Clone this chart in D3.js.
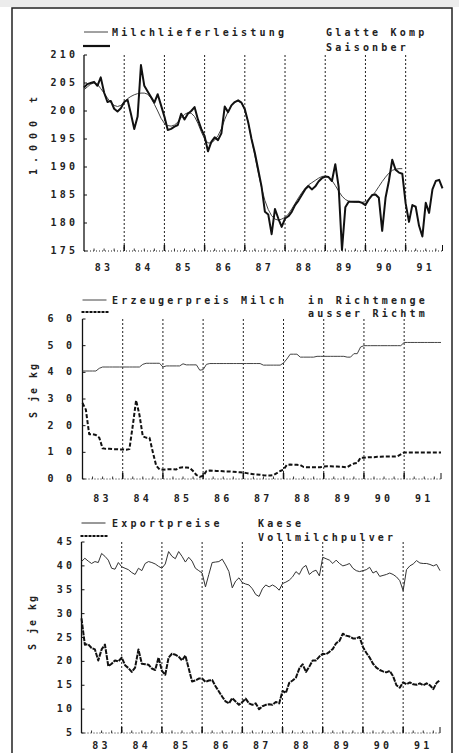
<!DOCTYPE html>
<html><head><meta charset="utf-8">
<script src="https://cdn.jsdelivr.net/npm/d3@7"></script>
<style>
body{margin:0;background:#fff}
text{font-family:"DejaVu Sans Mono",monospace;font-size:10px;font-weight:bold;fill:#222;letter-spacing:3.2px}
</style>
</head><body>
<svg id="c" width="459" height="753"></svg>
<script>
// ---------- data (monthly, Jan 1983 – Dec 1991) ----------
const years = ["83","84","85","86","87","88","89","90","91"];

const milchSaison = [
 204.2,204.8,205.0,205.2,204.5,206.0,203.3,201.6,201.8,200.4,199.9,200.5,
 201.6,202.0,199.5,196.8,199.0,208.2,204.5,203.5,202.5,201.5,203.0,201.0,
 199.0,196.6,196.8,197.2,197.5,199.5,198.5,199.5,200.0,200.7,198.5,196.8,
 195.5,192.8,194.5,195.3,194.8,196.0,200.8,199.8,201.0,201.6,201.9,201.5,
 200.3,198.0,195.0,192.5,189.5,186.5,182.0,181.5,178.0,182.5,180.8,179.3,
 180.8,181.2,182.0,183.2,184.0,185.0,186.0,186.6,186.0,186.5,187.4,188.0,
 188.3,188.2,187.5,190.5,186.5,175.2,182.8,183.8,183.8,183.8,183.8,183.6,
 183.2,184.2,185.0,185.1,184.5,178.6,184.5,187.5,191.3,189.5,189.0,188.8,
 183.5,180.2,183.2,182.9,179.5,177.6,183.6,181.8,186.0,187.5,187.7,186.2];

const milchGlatt = [
 203.8,204.3,204.8,205.0,204.8,204.0,203.2,202.3,201.5,201.0,200.8,201.0,
 201.6,202.2,202.6,202.9,203.1,203.2,203.2,203.0,202.3,201.2,200.0,198.7,
 197.8,197.4,197.3,197.5,198.0,198.8,199.4,199.7,199.6,199.0,197.8,196.3,
 195.0,194.3,194.3,194.8,195.6,196.8,198.5,199.9,201.0,201.6,201.8,201.4,
 200.2,198.0,195.0,192.0,189.0,186.3,184.0,182.4,181.3,180.7,180.5,180.7,
 181.0,181.6,182.5,183.5,184.5,185.4,186.2,186.8,187.2,187.6,188.0,188.3,
 188.4,188.2,187.6,186.7,185.7,184.8,184.2,183.9,183.8,183.7,183.7,183.7,
 183.8,184.2,184.8,185.6,186.5,187.4,188.2,188.9,189.4,189.6,189.7,189.7];

const preisRicht = [
 4.05,4.05,4.05,4.05,4.05,4.15,4.20,4.20,4.20,4.20,4.20,4.20,
 4.20,4.20,4.20,4.20,4.20,4.20,4.30,4.34,4.34,4.34,4.34,4.34,
 4.20,4.24,4.24,4.24,4.24,4.24,4.32,4.28,4.28,4.28,4.28,4.08,
 4.10,4.30,4.33,4.33,4.33,4.33,4.33,4.33,4.33,4.33,4.33,4.33,
 4.33,4.33,4.33,4.33,4.33,4.33,4.27,4.27,4.27,4.27,4.27,4.27,
 4.35,4.50,4.68,4.68,4.68,4.57,4.57,4.57,4.57,4.57,4.60,4.60,
 4.60,4.60,4.60,4.60,4.60,4.60,4.60,4.57,4.57,4.70,4.70,4.95,
 5.00,5.00,5.00,5.00,5.00,5.00,5.00,5.00,5.00,5.00,5.00,5.00,
 5.12,5.12,5.12,5.12,5.12,5.12,5.12,5.12,5.12,5.12,5.12,5.12];

const preisAusser = [
 2.85,2.60,1.68,1.68,1.65,1.55,1.15,1.13,1.13,1.12,1.12,1.11,
 1.11,1.10,1.12,2.00,2.95,2.40,1.60,1.55,1.55,1.00,0.50,0.36,
 0.35,0.36,0.37,0.37,0.36,0.42,0.44,0.43,0.42,0.30,0.15,0.08,
 0.12,0.30,0.32,0.31,0.30,0.30,0.29,0.28,0.28,0.27,0.26,0.25,
 0.24,0.22,0.20,0.18,0.17,0.16,0.14,0.13,0.13,0.15,0.22,0.30,
 0.35,0.53,0.54,0.53,0.53,0.52,0.45,0.44,0.44,0.44,0.44,0.44,
 0.47,0.48,0.48,0.47,0.47,0.46,0.45,0.44,0.52,0.58,0.60,0.80,
 0.80,0.81,0.82,0.82,0.83,0.83,0.84,0.84,0.84,0.84,0.85,0.92,
 0.99,0.99,0.99,0.99,0.99,0.99,0.99,0.99,0.99,0.99,0.99,0.99];

const kaese = [
 40.9,41.6,41.0,40.5,40.9,40.7,42.6,42.0,41.2,39.5,39.3,40.7,
 39.8,39.5,39.2,38.6,38.2,39.5,39.0,40.5,40.9,40.7,40.4,39.9,
 39.5,40.4,43.0,42.0,41.5,43.0,42.0,40.8,41.8,41.0,39.5,39.0,
 38.5,35.6,38.2,40.7,40.8,40.9,41.4,40.2,38.8,35.4,36.8,37.5,
 36.5,36.2,36.0,35.2,34.0,33.6,35.2,36.0,35.6,36.0,35.6,34.9,
 36.3,36.6,37.0,37.7,38.8,38.2,39.6,40.1,38.2,38.8,39.1,37.9,
 41.8,41.5,41.2,40.5,41.2,40.5,40.0,40.2,40.5,39.5,39.0,38.8,
 39.0,39.2,39.7,38.5,38.9,37.8,38.0,38.2,38.5,38.2,37.7,36.9,
 34.8,39.2,40.0,40.4,41.1,40.6,40.5,40.5,40.3,40.0,40.3,39.0];

const vollmilch = [
 29.0,23.5,23.6,22.8,22.5,20.2,22.5,23.5,19.0,19.5,20.2,20.0,
 20.8,19.2,18.6,17.8,18.7,22.5,19.5,19.4,19.3,18.5,18.2,20.8,
 18.0,17.2,20.8,21.6,21.4,21.0,20.2,21.2,18.5,15.8,16.0,16.4,
 16.4,15.7,16.0,16.1,14.8,13.7,12.6,11.6,11.2,12.3,11.6,10.9,
 11.5,12.2,11.2,10.9,11.2,10.0,10.6,10.9,11.0,10.9,11.5,11.2,
 13.8,13.4,15.5,16.0,16.6,18.5,19.4,17.8,18.9,20.2,20.2,21.0,
 21.6,21.5,22.0,22.6,23.8,24.3,25.8,25.4,25.2,24.8,24.8,25.1,
 23.0,21.8,20.8,19.5,18.7,18.2,17.9,17.7,18.0,16.9,15.0,14.5,
 15.6,15.2,15.6,15.2,15.1,15.4,15.0,15.4,15.0,14.2,15.5,16.1];

const p1Ticks = [175,180,185,190,195,200,205,210];
const p1TickLabels = ["175","180","185","190","195","200","205","210"];
const p2Ticks = [0,1,2,3,4,5,6];
const p2TickLabels = ["0 0","1 0","2 0","3 0","4 0","5 0","6 0"];
const p3Ticks = [5,10,15,20,25,30,35,40,45];
const p3TickLabels = ["5","10","15","20","25","30","35","40","45"];

// ---------- drawing ----------
const svg = d3.select("#c");
svg.append("rect").attr("x",0).attr("y",0).attr("width",459).attr("height",7).attr("fill","#ececec");
svg.append("rect").attr("x",12).attr("y",8).attr("width",440).attr("height",770)
  .attr("fill","none").attr("stroke","#222").attr("stroke-width",1.5);

function panel(cfg){
  const g = svg.append("g");
  const x = d3.scaleLinear().domain([0,107]).range([cfg.x0, cfg.x0+358.5]);
  const y = d3.scaleLinear().domain(cfg.domain).range([cfg.yb, cfg.yt]);
  for(let k=1;k<9;k++){
    g.append("line").attr("x1",x(12*k)).attr("x2",x(12*k)).attr("y1",cfg.yt).attr("y2",cfg.yb)
     .attr("stroke","#222").attr("stroke-width",1).attr("stroke-dasharray","2,2");
  }
  g.append("line").attr("x1",x(0)).attr("x2",x(107)).attr("y1",cfg.yb).attr("y2",cfg.yb)
   .attr("stroke","#222").attr("stroke-width",1).attr("stroke-dasharray","1,2");
  for(let m=0;m<=107;m++){
    if(m%12===0 || m%3!==0) continue;
    g.append("line").attr("x1",x(m)).attr("x2",x(m)).attr("y1",cfg.yb).attr("y2",cfg.yb-2.5)
     .attr("stroke","#333").attr("stroke-width",1);
  }
  for(let k=1;k<9;k++){
    g.append("line").attr("x1",x(12*k)).attr("x2",x(12*k)).attr("y1",cfg.yb).attr("y2",cfg.yb-6)
     .attr("stroke","#111").attr("stroke-width",1.5);
  }
  g.append("line").attr("x1",x(107)).attr("x2",x(107)).attr("y1",cfg.yb).attr("y2",cfg.yb-6)
   .attr("stroke","#111").attr("stroke-width",1);
  g.append("line").attr("x1",cfg.x0).attr("x2",cfg.x0).attr("y1",cfg.yt).attr("y2",cfg.yb)
   .attr("stroke","#111").attr("stroke-width",1.3);
  cfg.ticks.forEach((t,i)=>{
    g.append("line").attr("x1",cfg.x0).attr("x2",cfg.x0+3).attr("y1",y(t)).attr("y2",y(t))
     .attr("stroke","#111").attr("stroke-width",1);
    g.append("text").attr("x",cfg.labelX+3.2).attr("y",y(t)+3).attr("text-anchor","end")
     .text(cfg.tickLabels[i]);
  });
  years.forEach((yr,k)=>{
    g.append("text").attr("x",x(12*k+5.5)+1.6).attr("y",cfg.yearY).attr("text-anchor","middle").text(yr);
  });
  g.append("text").attr("transform",`translate(${cfg.titleX},${cfg.titleY}) rotate(-90)`)
   .attr("text-anchor","middle").style("letter-spacing",cfg.titleLS+"px").text(cfg.title);
  cfg.series.forEach(s=>{
    const line = d3.line().x((d,i)=>x(i)).y(d=>y(d));
    g.append("path").attr("d",line(s.data)).attr("fill","none")
     .attr("stroke",s.color).attr("stroke-width",s.w).attr("stroke-linejoin","round")
     .attr("stroke-dasharray",s.dash||null);
  });
  const L = cfg.legend;
  g.append("line").attr("x1",cfg.x0).attr("x2",cfg.x0+24).attr("y1",L.y1).attr("y2",L.y1)
   .attr("stroke",cfg.series[0].color).attr("stroke-width",1);
  g.append("line").attr("x1",cfg.x0-1).attr("x2",cfg.x0+26).attr("y1",L.y2).attr("y2",L.y2)
   .attr("stroke","#111").attr("stroke-width",2.2).attr("stroke-dasharray",L.dash2||null);
  g.append("text").attr("x",112).attr("y",L.y1+4).text(L.head);
  g.append("text").attr("x",L.colX).attr("y",L.y1+4).text(L.name1);
  g.append("text").attr("x",L.colX).attr("y",L.y2+4.5).text(L.name2);
}

panel({x0:84, yt:55, yb:251, domain:[175,210], ticks:p1Ticks, tickLabels:p1TickLabels, labelX:75,
  yearY:271, title:"1.000 t", titleX:37, titleY:133, titleLS:6,
  series:[{data:milchGlatt,color:"#444",w:1},{data:milchSaison,color:"#111",w:2}],
  legend:{y1:32,y2:46,head:"Milchlieferleistung",colX:326,name1:"Glatte Komp",name2:"Saisonber"}});

panel({x0:82.5, yt:319, yb:479, domain:[0,6], ticks:p2Ticks, tickLabels:p2TickLabels, labelX:72,
  yearY:502, title:"S je kg", titleX:37, titleY:390, titleLS:2,
  series:[{data:preisRicht,color:"#444",w:1},{data:preisAusser,color:"#111",w:2,dash:"4,2"}],
  legend:{y1:300,y2:312,head:"Erzeugerpreis Milch",colX:308,name1:"in Richtmenge",name2:"ausser Richtm",dash2:"3,1"}});

panel({x0:81.5, yt:542, yb:733, domain:[5,45], ticks:p3Ticks, tickLabels:p3TickLabels, labelX:72,
  yearY:749, title:"S je kg", titleX:36, titleY:622, titleLS:2,
  series:[{data:kaese,color:"#333",w:1},{data:vollmilch,color:"#111",w:2,dash:"5,1"}],
  legend:{y1:523,y2:536,head:"Exportpreise",colX:258,name1:"Kaese",name2:"Vollmilchpulver",dash2:"3,1"}});
</script>
</body></html>
